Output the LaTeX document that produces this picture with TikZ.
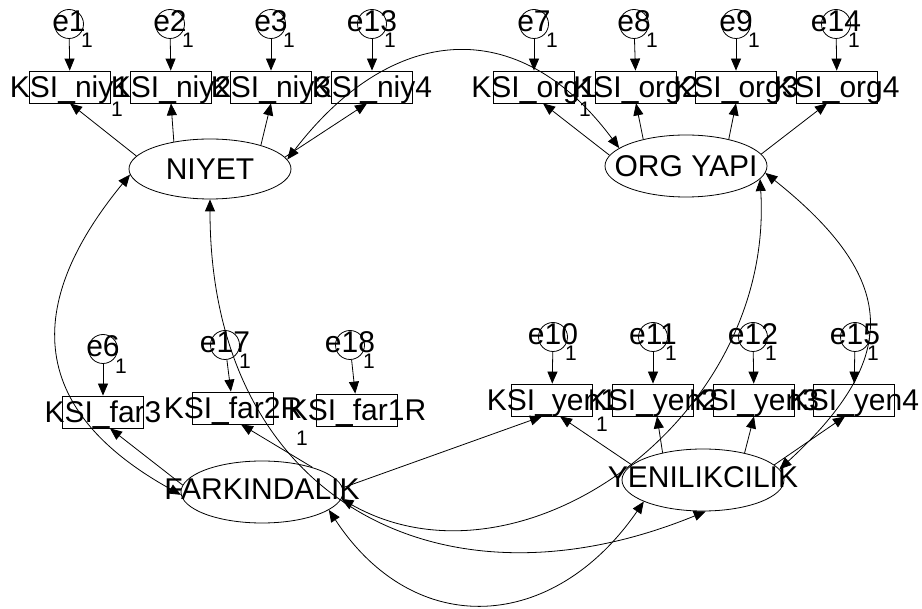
\documentclass[tikz,border=0pt]{standalone}
\usepackage{fontspec}
\setmainfont{Liberation Sans}
\usetikzlibrary{arrows.meta,shapes.geometric}
\begin{document}
\begin{tikzpicture}[x=1pt,y=-1pt,
  lat/.style={draw, ellipse, minimum width=162pt, minimum height=62pt, inner sep=0pt, line width=0.8pt},
  obs/.style={draw, rectangle, minimum width=81pt, minimum height=32pt, inner sep=0pt, line width=0.8pt},
  err/.style={draw, circle, minimum size=29pt, inner sep=0pt, line width=0.8pt},
  lbl/.style={font=\fontsize{30}{36}\selectfont, text height=22pt, text depth=0pt, inner sep=0pt},
  elbl/.style={lbl, yshift=3pt},
  one/.style={font=\fontsize{21}{25}\selectfont, inner sep=0pt},
  reg/.style={line width=0.8pt, -{Triangle[length=12pt,width=10pt]}},
  cov/.style={line width=0.8pt, {Triangle[length=12pt,width=10pt]}-{Triangle[length=12pt,width=10pt]}},
]
\useasboundingbox (0,0) rectangle (922,609);
\fill[white] (0,0) rectangle (922,609);

% latent variables
\node[lat, minimum height=60pt] (nyt) at (210,169) {};
\node[lat] (org) at (686,166) {};
\node[lat] (far) at (262,492) {};
\node[lat] (yen) at (703,480) {};
\node[lbl] (tnyt) at (nyt) {NIYET};
\node[lbl] (torg) at (org) {ORG YAPI};
\node[lbl,yshift=3pt] (tfar) at (far) {FARKINDALIK};
\node[lbl,yshift=3pt] (tyen) at (yen) {YENILIKCILIK};

% observed variables
\node[obs] (n1) at (70,87) {};
\node[obs] (n2) at (171,87) {};
\node[obs] (n3) at (271,87) {};
\node[obs] (n4) at (372,87) {};
\node[obs] (o1) at (534,87) {};
\node[obs] (o2) at (636,87) {};
\node[obs] (o3) at (736,87) {};
\node[obs] (o4) at (837,87) {};
\node[obs] (f3) at (103,412) {};
\node[obs] (f2) at (233,408) {};
\node[obs] (f1) at (357,410) {};
\node[obs] (y1) at (552,400) {};
\node[obs] (y2) at (653,400) {};
\node[obs] (y3) at (754,400) {};
\node[obs] (y4) at (854,400) {};

\node[lbl] (tn1) at (n1) {KSI\_niy1};
\node[lbl] (tn2) at (n2) {KSI\_niy2};
\node[lbl] (tn3) at (n3) {KSI\_niy3};
\node[lbl] (tn4) at (n4) {KSI\_niy4};
\node[lbl] (to1) at (o1) {KSI\_org1};
\node[lbl] (to2) at (o2) {KSI\_org2};
\node[lbl] (to3) at (o3) {KSI\_org3};
\node[lbl] (to4) at (o4) {KSI\_org4};
\node[lbl] (tf3) at (f3) {KSI\_far3};
\node[lbl] (tf2) at (f2) {KSI\_far2R};
\node[lbl] (tf1) at (f1) {KSI\_far1R};
\node[lbl] (ty1) at (y1) {KSI\_yen1};
\node[lbl] (ty2) at (y2) {KSI\_yen2};
\node[lbl] (ty3) at (y3) {KSI\_yen3};
\node[lbl] (ty4) at (y4) {KSI\_yen4};

% error terms
\node[err] (e1) at (69,24) {};
\node[err] (e2) at (170,24) {};
\node[err] (e3) at (271,24) {};
\node[err] (e13) at (372,24) {};
\node[err] (e7) at (534,24) {};
\node[err] (e8) at (634,24) {};
\node[err] (e9) at (736,24) {};
\node[err] (e14) at (836,24) {};
\node[err] (e6) at (103,349) {};
\node[err] (e17) at (225,345) {};
\node[err] (e18) at (350,345) {};
\node[err] (e10) at (553,337) {};
\node[err] (e11) at (653,337) {};
\node[err] (e12) at (753,337) {};
\node[err] (e15) at (855,337) {};

\node[elbl] (te1) at (e1) {e1};
\node[elbl] (te2) at (e2) {e2};
\node[elbl] (te3) at (e3) {e3};
\node[elbl] (te13) at (e13) {e13};
\node[elbl] (te7) at (e7) {e7};
\node[elbl] (te8) at (e8) {e8};
\node[elbl] (te9) at (e9) {e9};
\node[elbl] (te14) at (e14) {e14};
\node[elbl] (te6) at (e6) {e6};
\node[elbl] (te17) at (e17) {e17};
\node[elbl] (te18) at (e18) {e18};
\node[elbl] (te10) at (e10) {e10};
\node[elbl] (te11) at (e11) {e11};
\node[elbl] (te12) at (e12) {e12};
\node[elbl] (te15) at (e15) {e15};

% fixed weights "1"
\node[one] (w1) at (87,40) {1};
\node[one] (w2) at (188,40) {1};
\node[one] (w3) at (289,40) {1};
\node[one] (w13) at (390,40) {1};
\node[one] (w7) at (552,40) {1};
\node[one] (w8) at (652,40) {1};
\node[one] (w9) at (754,40) {1};
\node[one] (w14) at (854,40) {1};
\node[one] (w6) at (121,366) {1};
\node[one] (w17) at (245,361) {1};
\node[one] (w18) at (369,361) {1};
\node[one] (w10) at (571,353) {1};
\node[one] (w11) at (671,353) {1};
\node[one] (w12) at (771,353) {1};
\node[one] (w15) at (873,353) {1};
\node[one] (l1) at (117,109) {1};
\node[one] (l2) at (585,109) {1};
\node[one] (l3) at (602,424) {1};
\node[one] (l4) at (302,438) {1};

% error -> indicator
\draw[reg] (e1) -- (n1);
\draw[reg] (e2) -- (n2);
\draw[reg] (e3) -- (n3);
\draw[reg] (e13) -- (n4);
\draw[reg] (e7) -- (o1);
\draw[reg] (e8) -- (o2);
\draw[reg] (e9) -- (o3);
\draw[reg] (e14) -- (o4);
\draw[reg] (e6) -- (f3);
\draw[reg] (e17) -- (f2);
\draw[reg] (e18) -- (f1);
\draw[reg] (e10) -- (y1);
\draw[reg] (e11) -- (y2);
\draw[reg] (e12) -- (y3);
\draw[reg] (e15) -- (y4);

% loadings
\draw[reg] (nyt.170) -- (n1.south);
\draw[reg] (nyt.143) -- (n2.south);
\draw[reg] (nyt.25) -- (n3.south);
\draw[reg] (nyt.9) -- ([xshift=-5pt]n4.south);
\draw[reg] (org.172) -- ([xshift=9pt]o1.south);
\draw[reg] (org.148) -- (o2.south);
\draw[reg] (org.32) -- (o3.south);
\draw[reg] (org.9) -- ([xshift=-10pt]o4.south);
\draw[reg] (far.175) -- ([xshift=7pt]f3.south);
\draw[reg] (far.26) -- ([xshift=8pt]f2.south);
\draw[reg] (far.3) -- ([xshift=-10pt]y1.south);
\draw[reg] (yen.168) -- ([xshift=8pt]y1.south);
\draw[reg] (yen.146) -- ([xshift=4pt]y2.south);
\draw[reg] (yen.33) -- (y3.south);
\draw[reg] (yen.12) -- ([xshift=-9pt]y4.south);

% covariances
\draw[cov] (nyt.7) .. controls (391,24) and (518,12) .. (org.165);
\draw[cov] (nyt.184) .. controls (51,271) and (-3,393) .. (far.182);
\draw[cov] (nyt.south) .. controls (210,499) and (440,620) .. (yen.-85);
\draw[cov] (org.-10) .. controls (775,420) and (520,600) .. (far.-5);
\draw[cov] (org.-5) .. controls (897,278) and (903,356) .. (yen.8);
\draw[cov] (far.-15) .. controls (415,641) and (554,632) .. (yen.-160);
\end{tikzpicture}
\end{document}
